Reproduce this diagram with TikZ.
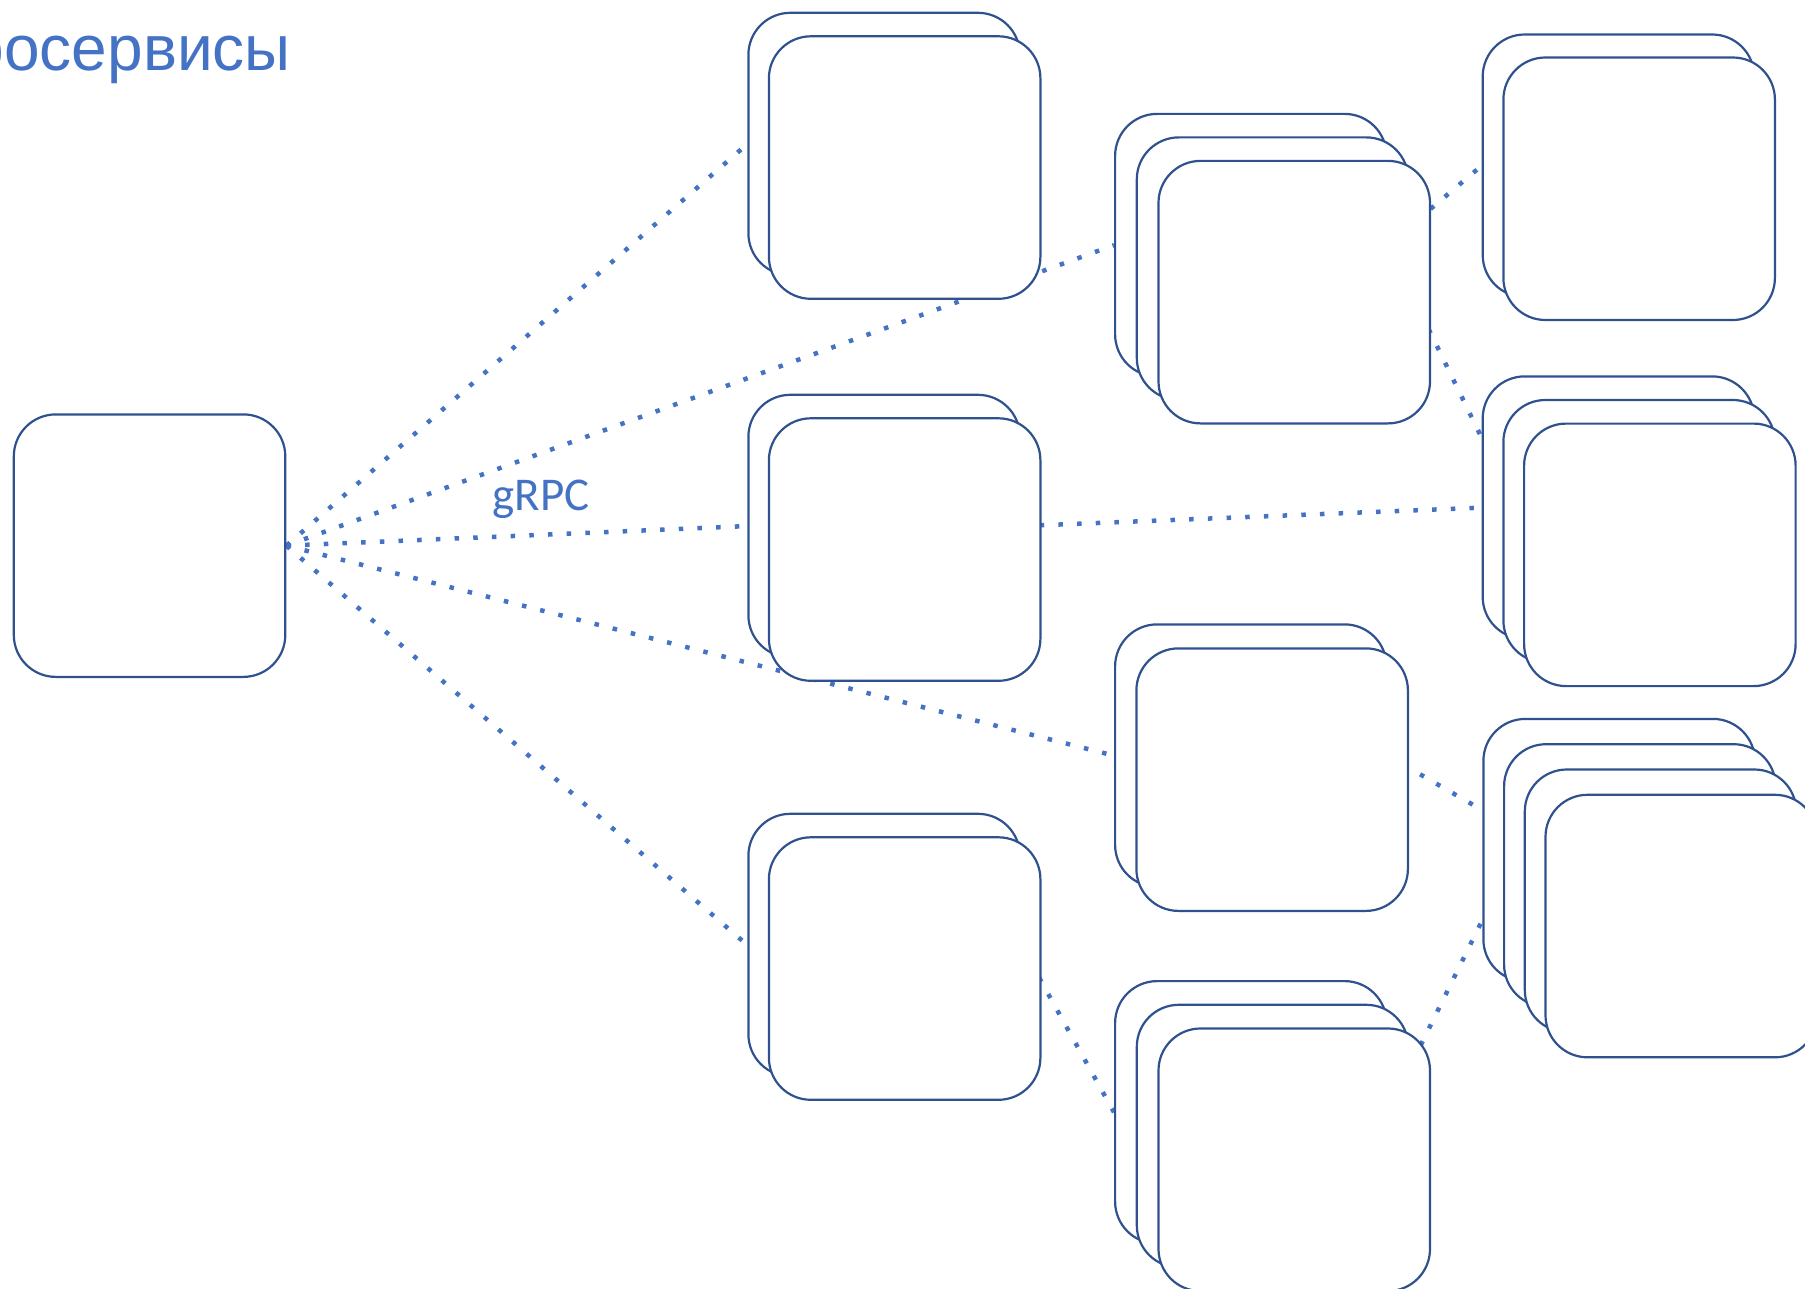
\documentclass[tikz,border=0pt]{standalone}
\usepackage{fontspec}
\setmainfont{Liberation Sans}
\newfontfamily\calibri{Carlito}
\usetikzlibrary{backgrounds}
\definecolor{boxline}{HTML}{2F528F}
\definecolor{linkblue}{HTML}{4472C4}
\tikzset{
  box/.style={draw=boxline,line width=2.2pt,fill=white,rounded corners=42pt,
    minimum width=271.5pt,minimum height=262.5pt,inner sep=0pt,anchor=north west},
  link/.style={draw=linkblue,line width=4.5pt,dash pattern=on 4.5pt off 14.2pt}
}

\begin{document}
\begin{tikzpicture}[x=1pt,y=-1pt]
  \useasboundingbox (0,0) rectangle (1805,1289);
  \clip (0,0) rectangle (1805,1289);
  \node[anchor=base east,inner sep=0pt,text=linkblue,font=\fontsize{64}{70}\selectfont] (title) at (291,71) {Микросервисы};

  \node[box] (client) at (12.7,413.3) {};
  % second column
  \foreach \i in {0,1} {
    \node[box] (p\i) at (747.3+20.5*\i,11.7+23.5*\i) {};
    \node[box] (q\i) at (747.3+20.5*\i,393.7+23.5*\i) {};
    \node[box] (r\i) at (747.3+20.5*\i,812.7+23.5*\i) {};
  }
  % third column
  \foreach \i in {0,1,2} \node[box] (a\i) at (1114+21.7*\i,112.8+23.5*\i) {};
  \foreach \i in {0,1} \node[box] (b\i) at (1114+21.3*\i,623.3+24*\i) {};
  \foreach \i in {0,1,2} \node[box] (c\i) at (1114+21.7*\i,980+23.7*\i) {};
  % fourth column
  \foreach \i in {0,1} \node[box] (d\i) at (1481.6+20.7*\i,33.4+23*\i) {};
  \foreach \i in {0,1,2} \node[box] (e\i) at (1481.6+20.7*\i,375.3+23.6*\i) {};
  \foreach \i in {0,...,3} \node[box] (f\i) at (1482.3+20.7*\i,717.8+25.3*\i) {};

  \node[text=linkblue,font=\calibri\fontsize{47}{54}\selectfont] (grpc) at (541,499) {gRPC};

  \begin{pgfonlayer}{background}
    \draw[link] (client.east) -- (p0.west);
    \draw[link] (client.east) -- (a0.west);
    \draw[link] (client.east) -- (q0.west);
    \draw[link] (client.east) -- (b0.west);
    \draw[link] (client.east) -- (r0.west);
    \draw[link] (q0.east) -- (e0.west);
    \draw[link] (a0.east) -- (d0.west);
    \draw[link] (a0.east) -- ([yshift=70pt]e0.west);
    \draw[link] (b0.east) -- ([yshift=40pt]f0.west);
    \draw[link] (r0.east) -- (c0.west);
    \draw[link] (c0.east) -- ([yshift=-70pt]f0.west);
  \end{pgfonlayer}
\end{tikzpicture}
\end{document}
